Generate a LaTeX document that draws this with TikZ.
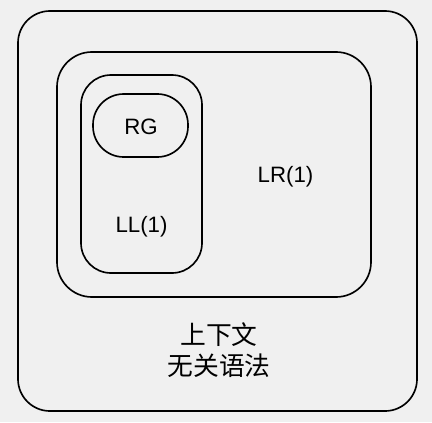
\documentclass[tikz,border=0pt]{standalone}
\usepackage{fontspec}
\setmainfont{Liberation Sans}
\newfontfamily\cjk{Noto Sans CJK SC}
\begin{document}
\begin{tikzpicture}[x=0.03cm,y=-0.03cm,
    set/.style={draw,line width=1.4pt,inner sep=0pt},
    lbl/.style={font=\fontsize{19}{21}\selectfont}]
      \fill[gray!12] (0,0) rectangle (432,422);
      \useasboundingbox (0,0) rectangle (432,422);
      \node[set,rounded corners=0.96cm,minimum width=11.97cm,minimum height=12cm] (cfg) at (217.5,211) {};
      \node[set,rounded corners=1.05cm,minimum width=9.42cm,minimum height=7.35cm] (lr) at (214,174.5) {};
      \node[set,rounded corners=0.9cm,minimum width=3.63cm,minimum height=5.94cm] (ll) at (141.5,174) {};
      \node[set,rounded corners=0.92cm,minimum width=2.85cm,minimum height=1.89cm] (rg) at (140.5,125.5) {};
      \node[lbl] (rgtext) at (141,127) {RG};
      \node[lbl] (lltext) at (141.5,227) {LL(1)};
      \node[lbl] (lrtext) at (285.5,177) {LR(1)};
      \node[lbl,align=center,font=\cjk\fontsize{22}{27}\selectfont] (cfgtext) at (219,350) {上下文\\无关语法};
    \end{tikzpicture}
\end{document}
